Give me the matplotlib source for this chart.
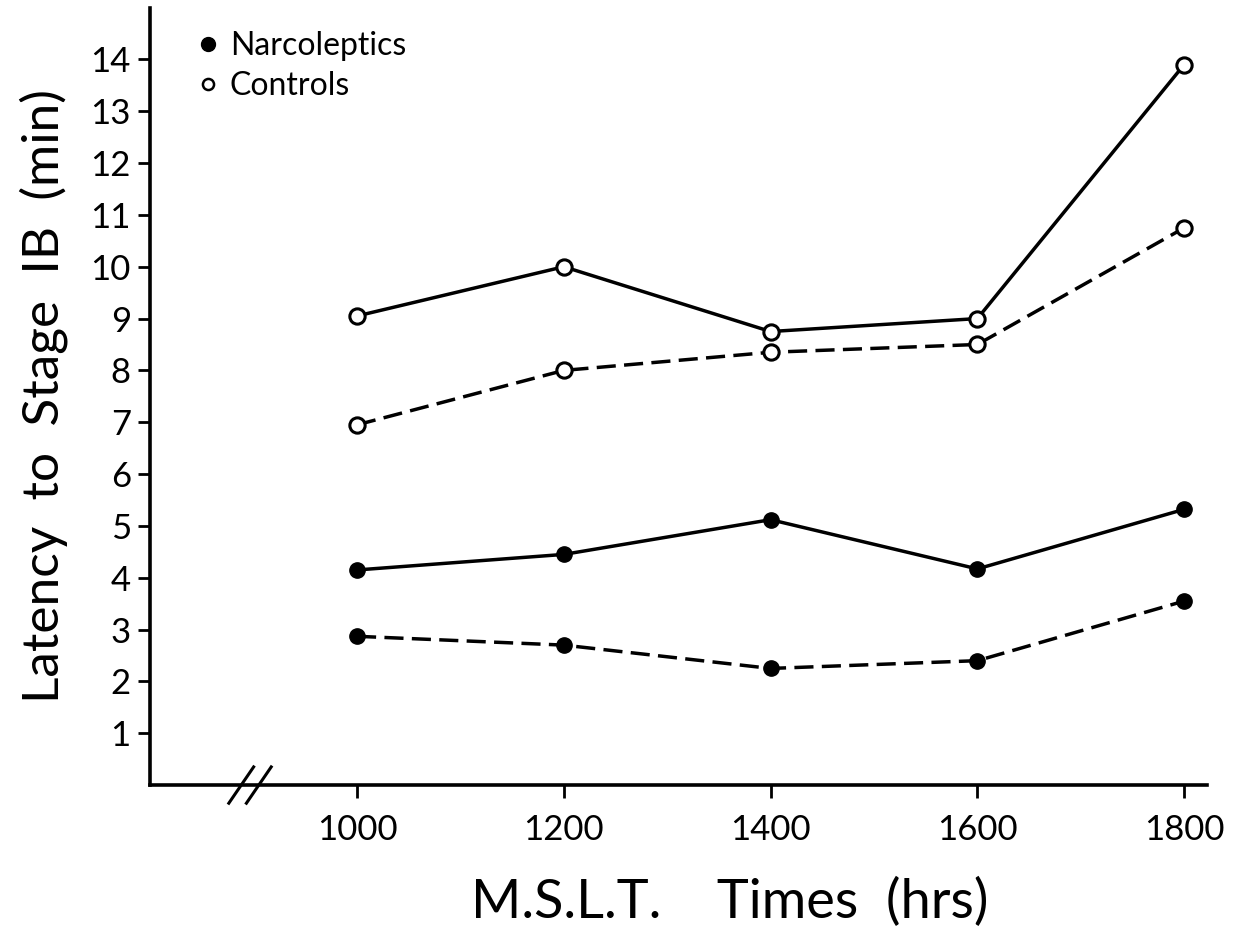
import matplotlib
matplotlib.use("Agg")
import matplotlib.pyplot as plt
from matplotlib.lines import Line2D

times = [1000, 1200, 1400, 1600, 1800]
controls_solid = [9.05, 10.0, 8.75, 9.0, 13.9]
controls_dashed = [6.95, 8.0, 8.35, 8.5, 10.75]
narco_solid = [4.15, 4.45, 5.12, 4.17, 5.32]
narco_dashed = [2.87, 2.7, 2.25, 2.4, 3.55]
yticks = list(range(1, 15))
xticks = [1000, 1200, 1400, 1600, 1800]

plt.rcParams['font.family'] = ['Lato', 'DejaVu Sans']

fig = plt.figure(figsize=(12.52, 9.47), dpi=100)
ax = fig.add_axes([0.12, 0.171, 0.844, 0.821])

lw = 2.5
ms = 11
dash = (0, (5.5, 2.4))
ax.plot(times, controls_solid, '-', color='black', lw=lw, marker='o', ms=ms,
        mfc='white', mec='black', mew=2.2)
ax.plot(times, controls_dashed, linestyle=dash, color='black', lw=lw, marker='o', ms=ms,
        mfc='white', mec='black', mew=2.2)
ax.plot(times, narco_solid, '-', color='black', lw=lw, marker='o', ms=ms,
        mfc='black', mec='black')
ax.plot(times, narco_dashed, linestyle=dash, color='black', lw=lw, marker='o', ms=ms,
        mfc='black', mec='black')

ax.set_xlim(800, 1822)
ax.set_ylim(0, 15)
ax.set_xticks(xticks)
ax.set_xticklabels([str(t) for t in xticks])
ax.set_yticks(yticks)
ax.set_yticklabels([str(t) for t in yticks])
ax.tick_params(axis='both', labelsize=25, width=2, length=9, direction='out', color='black')
ax.tick_params(axis='x', pad=12)
ax.tick_params(axis='y', pad=5)

for s in ['top', 'right']:
    ax.spines[s].set_visible(False)
for s in ['left', 'bottom']:
    ax.spines[s].set_linewidth(2.6)

# axis break marks
for xb in [888, 905]:
    ax.plot([xb - 12, xb + 12], [-0.35, 0.35], color='black', lw=2.2, clip_on=False)

ax.set_ylabel('Latency  to  Stage  IB  (min)', fontsize=37, labelpad=16)
ax.set_xlabel('M.S.L.T.    Times  (hrs)', fontsize=39, labelpad=28)
ax.xaxis.set_label_coords(0.548, -0.118)

handles = [
    Line2D([], [], ls='none', marker='o', ms=10, mfc='black', mec='black'),
    Line2D([], [], ls='none', marker='o', ms=8, mfc='white', mec='black', mew=1.8),
]
ax.legend(handles, ['Narcoleptics', 'Controls'], loc='upper left',
          bbox_to_anchor=(0.024, 0.998), frameon=False, fontsize=23,
          handlelength=0.6, handletextpad=0.4, labelspacing=0.3, borderpad=0.2)

fig.savefig('out.png', dpi=100, facecolor='white')
